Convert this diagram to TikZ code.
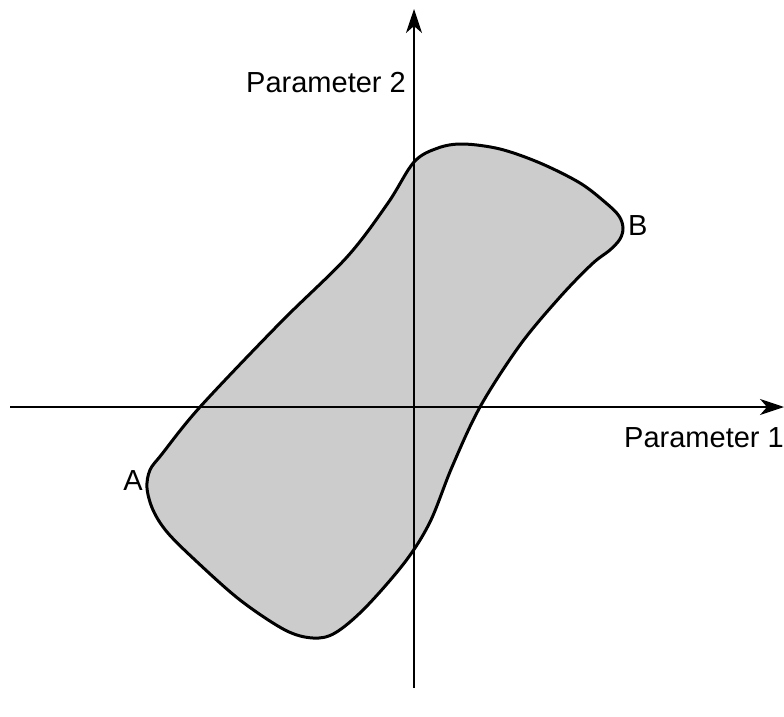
\documentclass[tikz,border=0pt]{standalone}
\usepackage{fontspec}
\setmainfont{Liberation Sans}
\usetikzlibrary{arrows.meta}
\begin{document}
\begin{tikzpicture}[x=1pt,y=-1pt,
  axis/.style={line width=1.1pt,-{Stealth[length=24pt,width=16pt,inset=7pt]}},
  lbl/.style={font=\fontsize{29}{32}\selectfont, inner sep=0pt},
  region/.style={line width=3pt, line join=round}]
\useasboundingbox (0,0) rectangle (784,717);
\coordinate (xs) at (10,407);
\coordinate (xe) at (784,407);
\coordinate (ys) at (414,688);
\coordinate (ye) at (414,9);
\def\regionpath{plot[smooth cycle, tension=0.55] coordinates {
 (463,144) (500,149) (540,163) (580,183) (606,203) (619,216) (623,228)
 (620,239) (610,250) (592,264) (560,297) (520,345) (480,407) (452,467)
 (430,522) (405,562) (365,608) (335,633) (313,638) (285,630) (240,600)
 (195,560) (167,532) (153,510) (147,488) (150,470) (162,454) (200,407)
 (280,323) (347,257) (388,203) (414,162) (438,148)}}
\fill[gray!40] \regionpath;
\draw[axis] (xs) -- (xe);
\draw[axis] (ys) -- (ye);
\draw[region] \regionpath;
\node[lbl, anchor=east] (p2) at (406,83) {Parameter 2};
\node[lbl, anchor=east] (p1) at (784,438) {Parameter 1};
\node[lbl, anchor=east] (a) at (143,481) {A};
\node[lbl, anchor=west] (b) at (628,226) {B};
\end{tikzpicture}
\end{document}
